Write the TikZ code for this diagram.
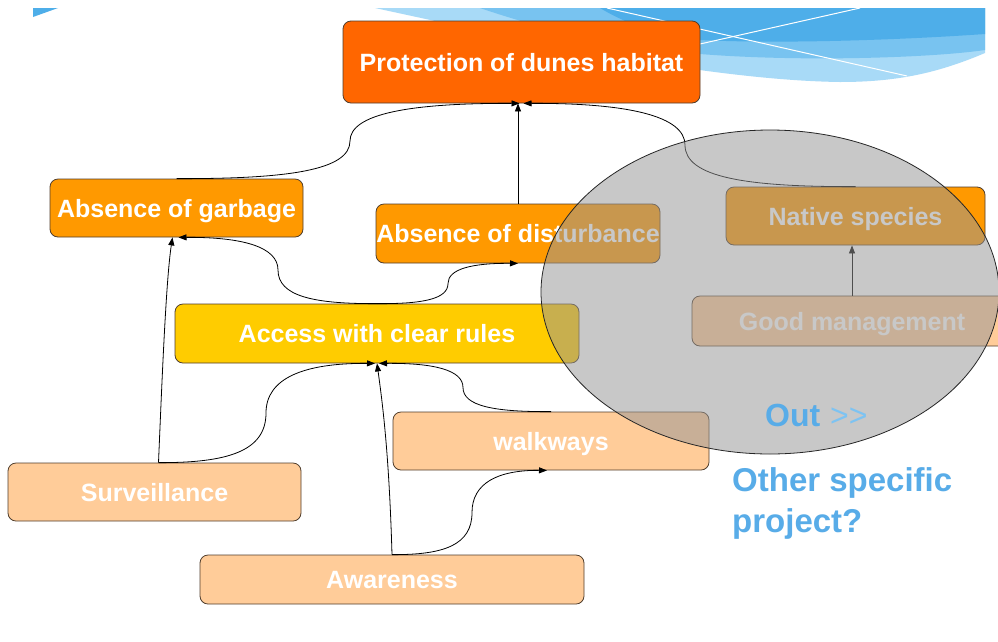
\documentclass[tikz,border=0pt]{standalone}
\usepackage{fontspec}
\setmainfont{Liberation Sans}
\usetikzlibrary{arrows.meta,calc}
\definecolor{cProt}{HTML}{FF6600}
\definecolor{cOrange}{HTML}{FF9900}
\definecolor{cYellow}{HTML}{FFCC00}
\definecolor{cPeach}{HTML}{FFCC99}
\definecolor{cBorder}{RGB}{80,62,45}
\definecolor{cBlueText}{RGB}{88,172,232}
\definecolor{cBlueLight}{RGB}{125,195,242}
\definecolor{wLight}{RGB}{168,218,247}
\definecolor{wMid}{RGB}{120,195,240}
\definecolor{wDark}{RGB}{78,174,233}
\begin{document}
\begin{tikzpicture}[x=1pt,y=-1pt,
  box/.style={draw=cBorder, line width=0.8pt, rounded corners=8pt, inner sep=0pt,
    text=white, font=\fontsize{25}{30}\selectfont\bfseries, text height=18pt, text depth=0pt},
  conn/.style={draw=black, line width=0.8pt, -{Triangle[length=8pt,width=6pt]}},
  bluetxt/.style={inner sep=0pt, text=cBlueText}]
\useasboundingbox (0,0) rectangle (998,641);
\fill[white] (0,0) rectangle (998,641);

% decorative wave
\fill[wLight] (375,8) -- (985,8) -- (985,53) .. controls (940,72) and (900,82) .. (840,82)
  .. controls (700,80) and (500,35) .. (375,8) -- cycle;
\fill[wMid] (480,8) -- (985,8) -- (985,50) .. controls (930,58) and (800,62) .. (700,54)
  .. controls (600,45) and (530,25) .. (480,8) -- cycle;
\fill[wDark] (600,8) -- (985,8) -- (985,34) .. controls (900,40) and (780,44) .. (700,40)
  .. controls (650,34) and (620,20) .. (600,8) -- cycle;
\draw[white, line width=1pt] (607,8) -- (907,76);
\draw[white, line width=1pt] (700,44) -- (860,8);
\fill[wDark] (33,8) -- (58,8) -- (33,17) -- cycle;

% boxes
\node[box, fill=cProt, minimum width=357pt, minimum height=82pt] (prot) at (521.5,62) {\makebox[0pt]{Protection of dunes habitat}};
\node[box, fill=cOrange, minimum width=253pt, minimum height=58pt] (garb) at (176.5,208) {\makebox[0pt]{Absence of garbage}};
\node[box, fill=cOrange, minimum width=284pt, minimum height=59pt] (dist) at (518,233.5) {\makebox[0pt]{Absence of disturbance}};
\node[box, fill=cOrange, minimum width=259pt, minimum height=58pt] (native) at (855.5,216) {\makebox[0pt]{Native species}};
\node[box, fill=cYellow, minimum width=404pt, minimum height=59pt] (access) at (377,333.5) {\makebox[0pt]{Access with clear rules}};
\node[box, fill=cPeach, minimum width=320pt, minimum height=50pt] (good) at (852,321) {\makebox[0pt]{Good management}};
\node[box, fill=cPeach, minimum width=316pt, minimum height=58pt] (walk) at (551,441) {\makebox[0pt]{walkways}};
\node[box, fill=cPeach, minimum width=293pt, minimum height=58pt] (surv) at (154.5,492) {\makebox[0pt]{Surveillance}};
\node[box, fill=cPeach, minimum width=384pt, minimum height=49pt] (awa) at (392,579.5) {\makebox[0pt]{Awareness}};

% connectors
\draw[conn] (garb.north) .. controls (289,179) and (350,170) .. (350,141)
  .. controls (350,114) and (409,103) .. ([xshift=-2pt]prot.south);
\draw[conn] (native.north) .. controls (745,187) and (685,177) .. (685,145)
  .. controls (685,116) and (628,103) .. ([xshift=2pt]prot.south);
\draw[conn] (dist.north) -- (dist.north |- prot.south);
\draw[conn] (access.north) .. controls (313,304) and (278,296) .. (278,270)
  .. controls (278,247) and (243,237) .. ([xshift=2pt]garb.south);
\draw[conn] (access.north) .. controls (423,304) and (448,299) .. (448,283.5)
  .. controls (448,269) and (472,263) .. (dist.south);
\draw[conn] ([xshift=4pt]surv.north) .. controls (162,380) and (166,280) .. ([xshift=-4pt]garb.south);
\draw[conn] ([xshift=4pt]surv.north) .. controls (228,463) and (266,451) .. (266,413)
  .. controls (266,378) and (304,363) .. ([xshift=-2pt]access.south);
\draw[conn] (walk.north) .. controls (494,412) and (463,406) .. (463,387.5)
  .. controls (463,370) and (434,363) .. ([xshift=2pt]access.south);
\draw[conn] (awa.north) .. controls (389,450) and (382,400) .. (access.south);
\draw[conn] (awa.north) .. controls (444,555) and (472,545) .. (472,512.5)
  .. controls (472,483) and (498,470) .. ([xshift=-4pt]walk.south);
\draw[conn] (good.north) -- (good.north |- native.south);

% grey "out" ellipse
\draw[fill=black!41, fill opacity=0.52, draw=black!85, line width=0.8pt] (770,292) ellipse [x radius=229pt, y radius=162pt];

% texts
\node[bluetxt, anchor=base west, font=\fontsize{32}{36}\selectfont\bfseries] (out) at (765,426) {Out};
\node[bluetxt, anchor=base west, text=cBlueLight, font=\fontsize{32}{36}\selectfont] (gt) at (830,426) {>\kern0pt>};
\node[bluetxt, anchor=north west, align=left, font=\fontsize{33}{41}\selectfont\bfseries] (other) at (732,467) {Other specific\\project?};
\end{tikzpicture}
\end{document}
